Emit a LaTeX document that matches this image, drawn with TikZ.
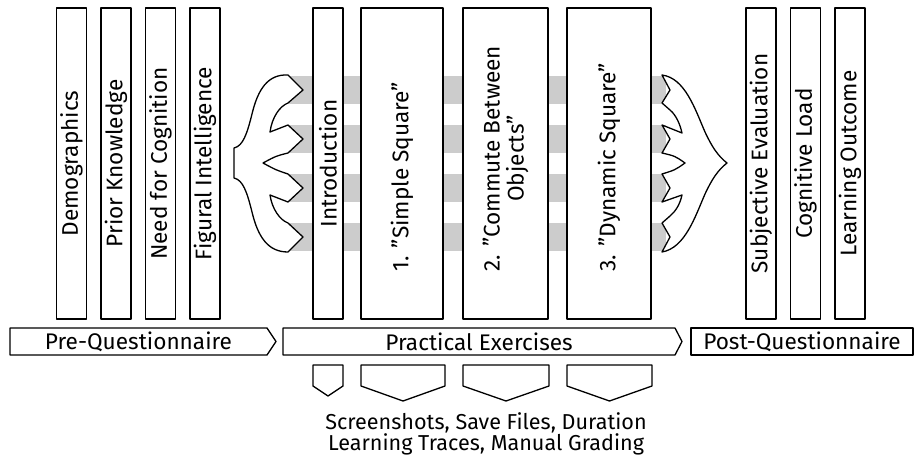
\documentclass[tikz,border=0pt]{standalone}
\usepackage{fontspec}
\setmainfont{Fira Sans}
\usepackage{tikz}
\usetikzlibrary{calc, positioning}

\begin{document}
\begin{tikzpicture}[x = 0.5pt, y = 0.5pt, line width = 0.65pt, line join = round,
		every node/.style = {font = {\fontsize{11.3}{12}\selectfont}},
		bar/.style = {draw, fill = white, rotate = 90, inner sep = 0pt, minimum width = 155.5pt, minimum height = 15pt},
		barlabel/.style = {rotate = 90, align = center, inner sep = 0pt, anchor = west},
		phase/.style = {draw, fill = white},
		phaselabel/.style = {inner sep = 0pt},
		band/.style = {fill = black!20}]
	\def\yMID{298.5};
	\def\bandH{14};
	\def\yLBL{190};

	\useasboundingbox (0,0) rectangle (915,462);

	\begin{scope}
		\foreach \y in {372, 323, 274, 225}
		{
			\fill[band] (288,\y-\bandH) rectangle (666,\y+\bandH);
		}
	\end{scope}

	\begin{scope}
		\foreach \name/\x/\txt in {demo/71.5/Demographics, prior/116/Prior Knowledge, nfc/160.5/Need for Cognition, figint/205/Figural Intelligence}
		{
			\node[bar] (\name) at (\x,\yMID) {\txt};
		}

		\foreach \name/\x/\txt in {subj/761/Subjective Evaluation, cogload/805.5/Cognitive Load, outcome/850/Learning Outcome}
		{
			\node[bar] (\name) at (\x,\yMID) {\txt};
		}
	\end{scope}

	\begin{scope}
		\node[bar] (intro) at (328,\yMID) {Introduction};
		\node[bar, minimum height = 41pt] (simple) at (402,\yMID) {};
		\node[bar, minimum height = 42.5pt] (commute) at (505.5,\yMID) {};
		\node[bar, minimum height = 42pt] (dynamic) at (609,\yMID) {};

		\node[barlabel] (simplelbl) at (simple |- 0,\yLBL) {1. "Simple Square"};
		\node[barlabel] (commutelbl) at (commute |- 0,\yLBL) {2. "Commute Between\\Objects"};
		\node[barlabel] (dynamiclbl) at (dynamic |- 0,\yLBL) {3. "Dynamic Square"};
	\end{scope}

	\begin{scope}
		\filldraw[fill = white] (288,387) -- (303,372) -- (288,359)
			.. controls (280,356) and (272,345) .. (270,330) -- (288,337) -- (303,323) -- (288,309)
			.. controls (276,306) .. (263,299) .. controls (276,292) .. (288,288) -- (303,274) -- (288,260)
			-- (270,267) .. controls (272,253) and (280,242) .. (288,239) -- (303,225) -- (288,210)
			.. controls (268,210) and (258,225) .. (252,250) .. controls (247,270) and (243,282) .. (234,284)
			-- (234,314) .. controls (243,316) and (247,328) .. (252,348) .. controls (258,373) and (268,388) .. cycle;

		\filldraw[fill = white] (662,387) -- (670,372) -- (662,359) -- (670,352)
			.. controls (676,347) and (680,338) .. (682,329) -- (662,337) -- (670,323) -- (662,309)
			.. controls (675,306) .. (685,299) .. controls (675,292) .. (662,288) -- (670,274) -- (662,260)
			-- (682,267) .. controls (680,258) and (676,251) .. (670,246) -- (662,239) -- (670,225) -- (662,210)
			.. controls (685,214) and (695,245) .. (705,268) .. controls (712,283) and (718,292) .. (727,299)
			.. controls (718,306) and (712,315) .. (705,330) .. controls (695,353) and (685,384) .. cycle;
	\end{scope}

	\begin{scope}
		\draw[phase] (10,107) -- (267,107) -- (276,120.5) -- (267,134) -- (10,134) -- cycle;
		\draw[phase] (283,107) -- (675,107) -- (682,120.5) -- (675,134) -- (283,134) -- cycle;
		\draw[phase] (691,107) rectangle (913,134);

		\node[phaselabel] (pre) at (138.5,120.5) {Pre-Questionnaire};
		\node[phaselabel] (practical) at (479,120.5) {Practical Exercises};
		\node[phaselabel] (post) at (802,120.5) {Post-Questionnaire};
	\end{scope}

	\begin{scope}
		\foreach \l/\r/\tip in {313/343/66, 361/445/61, 463/549/61, 567/652/61}
		{
			\draw (\l,97) -- (\l,76) -- ({(\l+\r)/2},\tip) -- (\r,76) -- (\r,97) -- cycle;
		}
	\end{scope}

	\node[align = center, inner sep = 0pt, font = {\fontsize{10.8}{10.5}\selectfont}] (traces) at (486,28.5) {Screenshots, Save Files, Duration\\Learning Traces, Manual Grading};
\end{tikzpicture}
\end{document}
